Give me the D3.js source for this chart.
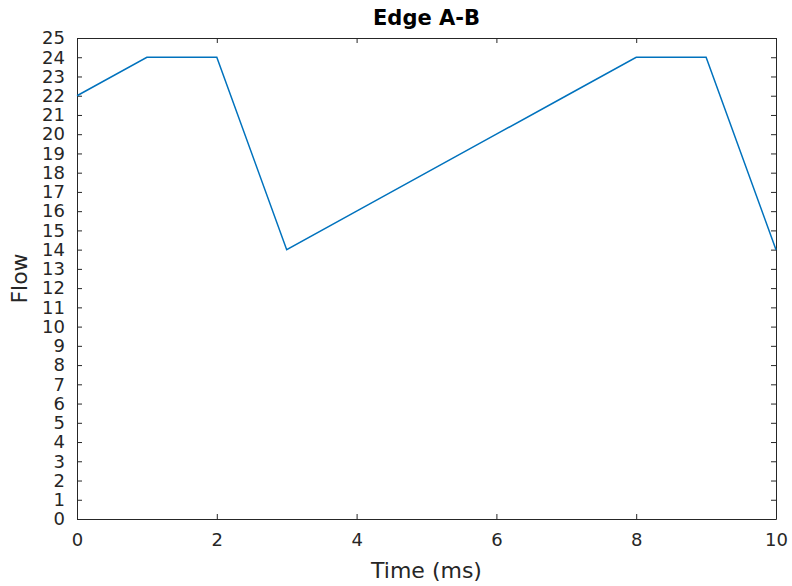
<!DOCTYPE html>
<html>
<head>
<meta charset="utf-8">
<script src="https://cdn.jsdelivr.net/npm/d3@7"></script>
<style>
  body { margin: 0; background: #fff; }
  svg text { font-family: "DejaVu Sans", sans-serif; fill: #262626; }
</style>
</head>
<body>
<div id="chart"></div>
<script>
var width = 792, height = 586;
var margin = {left: 77, top: 38, right: 16, bottom: 67};

// data
var times = [0, 1, 2, 3, 4, 5, 6, 7, 8, 9, 10];
var flow = [22, 24, 24, 14, 16, 18, 20, 22, 24, 24, 14];
var xTicks = [0, 2, 4, 6, 8, 10];
var yTicks = d3.range(0, 26);

var svg = d3.select("#chart").append("svg")
    .attr("width", width).attr("height", height);

var iw = width - margin.left - margin.right,
    ih = height - margin.top - margin.bottom;

var g = svg.append("g")
    .attr("transform", "translate(" + margin.left + "," + margin.top + ")");

var x = d3.scaleLinear().domain([0, 10]).range([0, iw]);
var y = d3.scaleLinear().domain([0, 25]).range([ih, 0]);

// axes with inward ticks on all four sides
function styleAxis(sel) {
    sel.selectAll("path").attr("stroke", "#262626").attr("stroke-width", 1);
    sel.selectAll("line").attr("stroke", "#262626");
    sel.selectAll("text").attr("font-size", 18).attr("fill", "#262626")
        .style("font-family", "DejaVu Sans, sans-serif");
}

var xb = g.append("g").attr("transform", "translate(0," + ih + ")")
    .call(d3.axisBottom(x).tickValues(xTicks).tickSizeInner(-5).tickSizeOuter(0).tickPadding(14));
xb.call(styleAxis);

var xt = g.append("g")
    .call(d3.axisTop(x).tickValues(xTicks).tickSizeInner(-5).tickSizeOuter(0).tickFormat(""));
xt.call(styleAxis);

var yl = g.append("g")
    .call(d3.axisLeft(y).tickValues(yTicks).tickSizeInner(-5).tickSizeOuter(0).tickPadding(12));
yl.call(styleAxis);

var yr = g.append("g").attr("transform", "translate(" + iw + ",0)")
    .call(d3.axisRight(y).tickValues(yTicks).tickSizeInner(-5).tickSizeOuter(0).tickFormat(""));
yr.call(styleAxis);

// the line
var line = d3.line()
    .x(function(d, i) { return x(times[i]); })
    .y(function(d) { return y(d); });

g.append("path").datum(flow)
    .attr("d", line)
    .attr("fill", "none")
    .attr("stroke", "#0072BD")
    .attr("stroke-width", 1.5);

// labels
svg.append("text")
    .attr("x", margin.left + iw / 2).attr("y", 25)
    .attr("text-anchor", "middle")
    .attr("font-size", 21).attr("font-weight", "bold")
    .style("fill", "#000")
    .text("Edge A-B");

svg.append("text")
    .attr("x", margin.left + iw / 2).attr("y", 578)
    .attr("text-anchor", "middle")
    .attr("font-size", 22)
    .text("Time (ms)");

svg.append("text")
    .attr("transform", "translate(27," + (margin.top + ih / 2) + ") rotate(-90)")
    .attr("text-anchor", "middle")
    .attr("font-size", 22)
    .text("Flow");
</script>
</body>
</html>
